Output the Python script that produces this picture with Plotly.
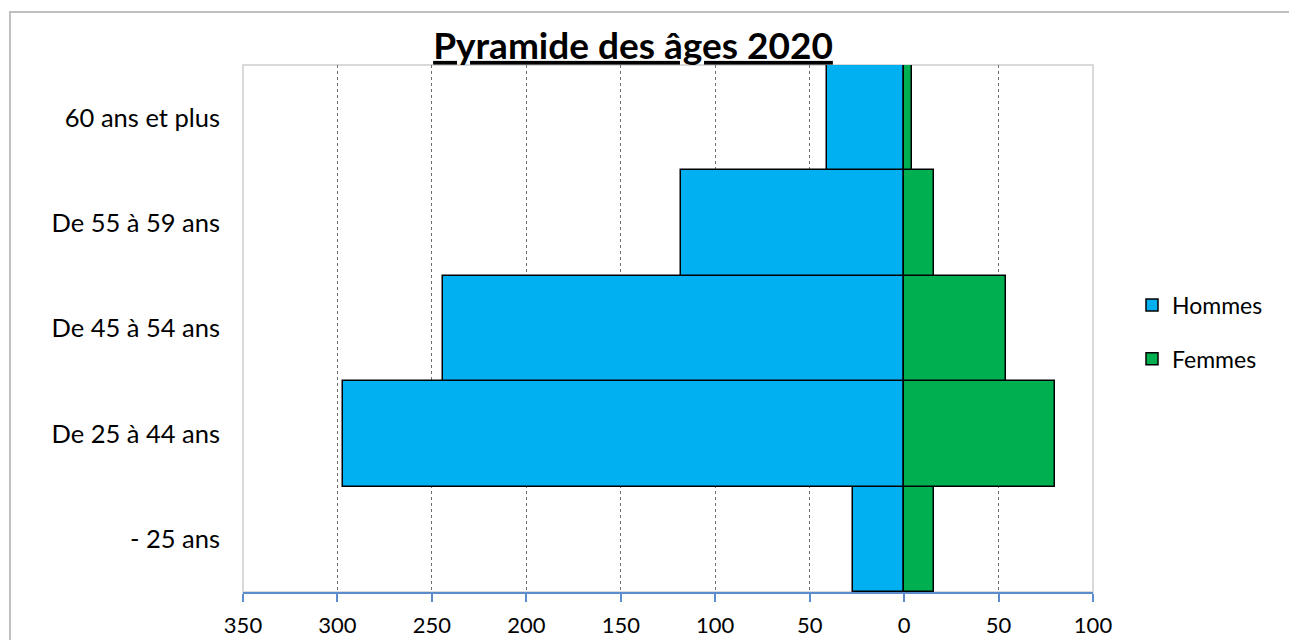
import plotly.graph_objects as go

# ---- data ----
categories = ["- 25 ans", "De 25 à 44 ans", "De 45 à 54 ans", "De 55 à 59 ans", "60 ans et plus"]
hommes = [27, 297, 244, 118, 41]
femmes = [16, 80, 54, 16, 4]
x_ticks = [-350, -300, -250, -200, -150, -100, -50, 0, 50, 100]
x_ticklabels = [str(abs(v)) for v in x_ticks]
boundaries = [0.5, 1.5, 2.5, 3.5]

FONT = "Lato"
W, H = 1297, 640
OFF = 8  # page body margin offset
L, R, T, B = 243 - OFF, 204 + OFF, 65 - OFF, 48 + OFF

fig = go.Figure()
fig.add_trace(go.Bar(
    y=categories, x=[-v for v in hommes], orientation="h", name="Hommes",
    marker=dict(color="#00B0F0", line=dict(color="#000000", width=1.5)),
    legendgroup="h",
))
fig.add_trace(go.Bar(
    y=categories, x=femmes, orientation="h", name="Femmes",
    marker=dict(color="#00B050", line=dict(color="#000000", width=1.5)),
    legendgroup="f",
))

pw = W - L - R
ph = H - T - B

def px_x(p):  # screen pixel -> paper x
    return (p - OFF - L) / pw

def px_y(p):  # screen pixel -> paper y
    return (H - B - (p - OFF)) / ph

fig.update_layout(
    width=W, height=H,
    margin=dict(l=L, r=R, t=T, b=B, autoexpand=False),
    paper_bgcolor="white", plot_bgcolor="white",
    barmode="relative", bargap=0,
    font=dict(family=FONT, size=22, color="#000000"),
    title=dict(
        text="<b><u>Pyramide des âges 2020</u></b>",
        font=dict(family=FONT, size=37, color="#000000"),
        xref="container", x=(633 - OFF) / W, xanchor="center",
        yref="container", y=1 - (33 - OFF) / H, yanchor="top",
    ),
    xaxis=dict(
        range=[-350, 100], tickvals=x_ticks, ticktext=x_ticklabels,
        showgrid=True, gridcolor="#6f6f6f", griddash="dot", gridwidth=1,
        zeroline=False, showline=True, linecolor="#5B8CCB", linewidth=2,
        ticks="outside", ticklen=8, tickwidth=2, tickcolor="#5B8CCB",
        ticklabelstandoff=5,
        tickfont=dict(family=FONT, size=22, color="#000000"),
    ),
    yaxis=dict(
        type="category", categoryorder="array", categoryarray=categories,
        range=[-0.5, 4.5], showgrid=False, zeroline=False, showline=False,
        ticks="", ticklabelstandoff=22,
        tickfont=dict(family=FONT, size=25.5, color="#000000"),
    ),
    yaxis2=dict(
        type="linear", overlaying="y", side="right", anchor="x",
        range=[-0.5, 4.5], tickvals=boundaries, ticks="inside", ticklen=7,
        tickwidth=2, tickcolor="#8c8c8c", showticklabels=False,
        showline=True, linecolor="#8c8c8c", linewidth=2,
        showgrid=False, zeroline=False,
    ),
    legend=dict(
        x=px_x(1132), xanchor="left", y=px_y(332), yanchor="middle",
        font=dict(family=FONT, size=23, color="#000000"),
        tracegroupgap=21, bgcolor="rgba(0,0,0,0)",
    ),
    shapes=[
        dict(type="rect", xref="paper", yref="paper", x0=0, x1=1, y0=0, y1=1,
             line=dict(color="#d9d9d9", width=2), layer="between"),
        dict(type="rect", xref="paper", yref="paper",
             x0=px_x(10), x1=px_x(W + 20),
             y0=px_y(H + 20), y1=px_y(12),
             line=dict(color="#c0c0c0", width=2), layer="below"),
    ],
)

fig.write_html("out.html")
